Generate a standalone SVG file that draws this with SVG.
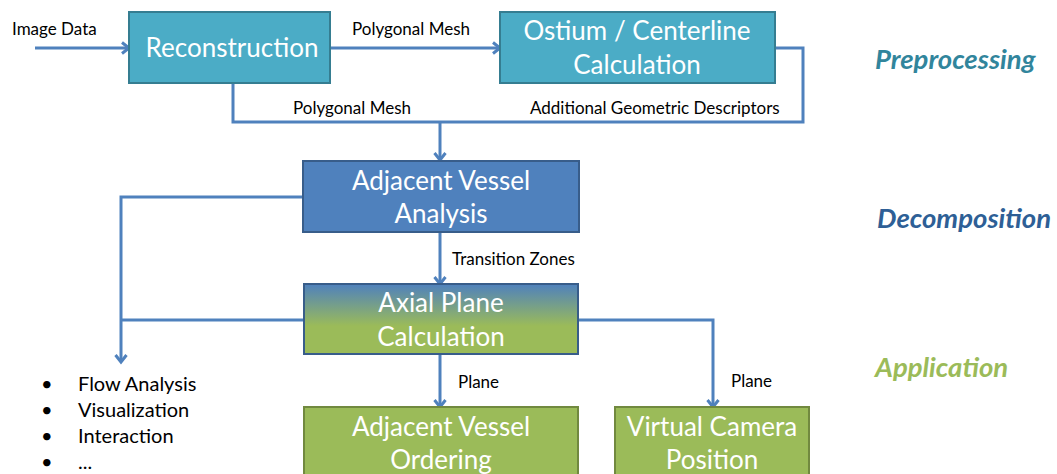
<svg xmlns="http://www.w3.org/2000/svg" width="1057" height="474" viewBox="0 0 1057 474">
<style>
.lbl{font-family:Lato,"Liberation Sans",sans-serif;font-size:17px;fill:#000}
.bt{font-family:Lato,"Liberation Sans",sans-serif;font-size:26px;fill:#fff;text-anchor:middle}
.ph{font-family:Lato,"Liberation Sans",sans-serif;font-size:27.5px;font-weight:bold;font-style:italic}
.bl{font-family:Lato,"Liberation Sans",sans-serif;font-size:20px;fill:#000}
.teal{fill:#4bacc6;stroke:#357d91;stroke-width:2}
.blue{fill:#4f81bd;stroke:#385d8a;stroke-width:2}
.green{fill:#9bbb59;stroke:#71893f;stroke-width:2}
.c{fill:none;stroke:#4f81bd;stroke-width:3}
</style>
<defs>
<marker id="ah" markerUnits="userSpaceOnUse" markerWidth="14" markerHeight="14" refX="11" refY="7" orient="auto">
<path d="M4,1.5 L11,7 L4,12.5" fill="none" stroke="#4f81bd" stroke-width="3"/>
</marker>
<linearGradient id="gr" x1="0" y1="0" x2="0" y2="1">
<stop offset="0" stop-color="#4f81bd"/>
<stop offset="0.6" stop-color="#9bbb59"/>
<stop offset="1" stop-color="#9bbb59"/>
</linearGradient>
</defs>
<g id="connectors">
<path class="c" d="M35,48 H129" marker-end="url(#ah)"/>
<path class="c" d="M330,48 H500" marker-end="url(#ah)"/>
<path class="c" d="M233,83 V122 H803 V48 H775"/>
<path class="c" d="M440,122 V160" marker-end="url(#ah)"/>
<path class="c" d="M303,197 H121 V362" marker-end="url(#ah)"/>
<path class="c" d="M304,320 H121"/>
<path class="c" d="M440,232 V284" marker-end="url(#ah)"/>
<path class="c" d="M440,354 V407" marker-end="url(#ah)"/>
<path class="c" d="M578,320 H713 V407" marker-end="url(#ah)"/>
</g>
<g id="labels">
<text class="lbl" x="12" y="35">Image Data</text>
<text class="lbl" x="352" y="35">Polygonal Mesh</text>
<text class="lbl" x="293" y="114">Polygonal Mesh</text>
<text class="lbl" x="530" y="114">Additional Geometric Descriptors</text>
<text class="lbl" x="452" y="265">Transition Zones</text>
<text class="lbl" x="458" y="388">Plane</text>
<text class="lbl" x="731" y="387">Plane</text>
</g>
<g id="reconstruction">
<rect class="teal" x="129" y="12" width="201" height="71"/>
<text class="bt" x="232" y="57">Reconstruction</text>
</g>
<g id="ostium">
<rect class="teal" x="500" y="12" width="275" height="71"/>
<text class="bt" x="637" y="40">Ostium / Centerline</text>
<text class="bt" x="637" y="74">Calculation</text>
</g>
<g id="adjacent-vessel-analysis">
<rect class="blue" x="303" y="161" width="276" height="71"/>
<text class="bt" x="441" y="190">Adjacent Vessel</text>
<text class="bt" x="441" y="223">Analysis</text>
</g>
<g id="axial-plane">
<rect x="304" y="284" width="274" height="70" fill="url(#gr)" stroke="#385d8a" stroke-width="2"/>
<text class="bt" x="441" y="312">Axial Plane</text>
<text class="bt" x="441" y="346">Calculation</text>
</g>
<g id="adjacent-vessel-ordering">
<rect class="green" x="304" y="407" width="274" height="80"/>
<text class="bt" x="441" y="436">Adjacent Vessel</text>
<text class="bt" x="441" y="469">Ordering</text>
</g>
<g id="virtual-camera">
<rect class="green" x="615" y="407" width="194" height="80"/>
<text class="bt" x="712" y="436">Virtual Camera</text>
<text class="bt" x="712" y="469">Position</text>
</g>
<g id="applications-list">
<text class="bl" x="41" y="391">•</text><text class="bl" x="78" y="391">Flow Analysis</text>
<text class="bl" x="41" y="417">•</text><text class="bl" x="78" y="417">Visualization</text>
<text class="bl" x="41" y="443">•</text><text class="bl" x="78" y="443">Interaction</text>
<text class="bl" x="41" y="469">•</text><text class="bl" x="78" y="469">...</text>
</g>
<g id="phases">
<text class="ph" x="875" y="69" fill="#31859c">Preprocessing</text>
<text class="ph" x="877" y="228" fill="#2e5f96">Decomposition</text>
<text class="ph" x="875" y="377" fill="#9bbb59">Application</text>
</g>
</svg>
